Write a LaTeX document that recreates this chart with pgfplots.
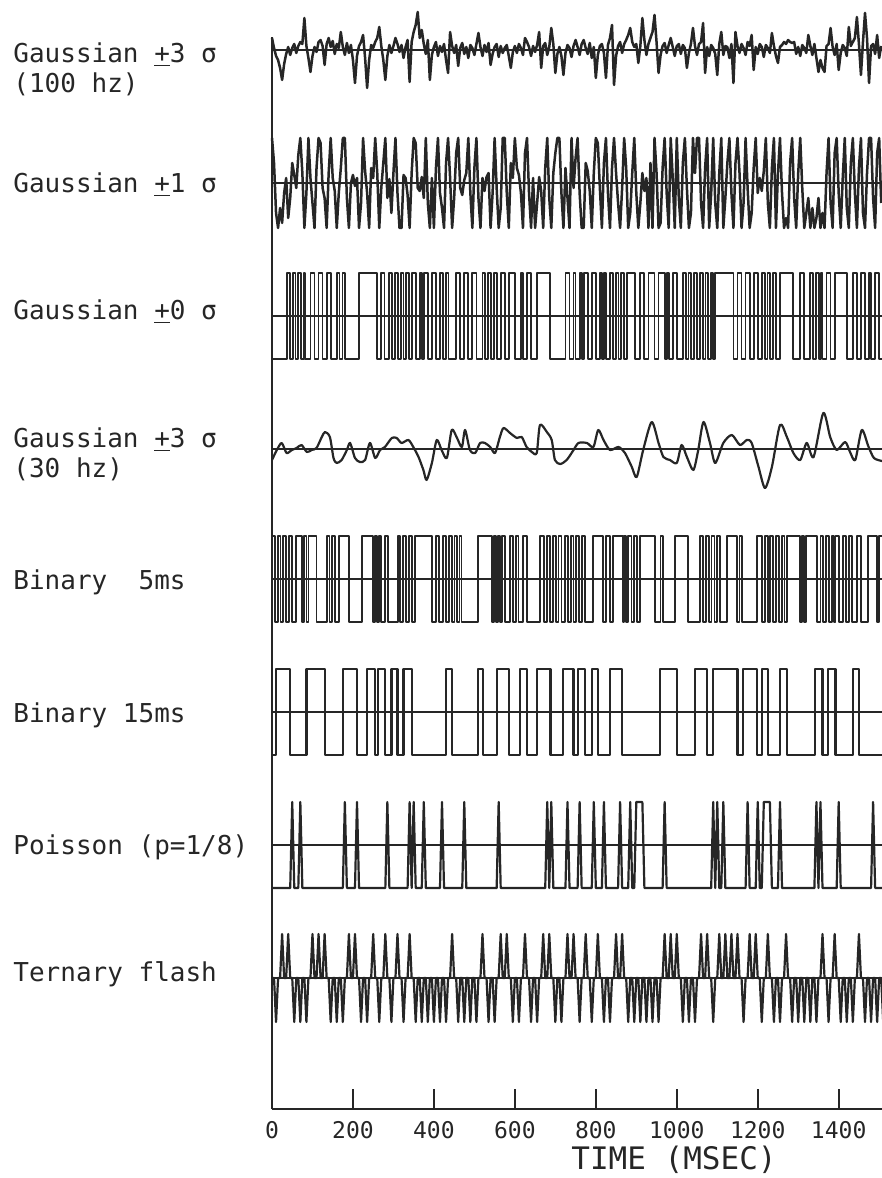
\documentclass[border=0pt]{standalone}
\usepackage{pgfplots}
\pgfplotsset{compat=1.18}
\usepackage{fontspec}
\newfontfamily\mono{DejaVu Sans Mono}
\definecolor{ink}{gray}{0.15}
\newcommand\lbl{\mono\fontsize{13}{15}\selectfont}

\begin{document}
\begin{tikzpicture}
\useasboundingbox (-136pt,-34.5pt) rectangle (305pt,554.5pt);
\begin{axis}[
  at={(0,0)}, anchor=south west,
  scale only axis, width=305pt, height=536pt,
  xmin=0, xmax=1507, ymin=-1109, ymax=-37,
  clip=false,
  axis x line=bottom, axis y line=left,
  axis line style={-, line width=1pt, ink},
  xtick={0,200,400,600,800,1000,1200,1400},
  xticklabels={0,200,400,600,800,1000,1200,1400},
  ytick=\empty,
  tick align=inside, major tick length=10pt,
  tick style={line width=1pt, ink},
  xticklabel style={font=\mono\fontsize{11.5}{12}\selectfont, text=ink, yshift=-2.5pt},
  trace/.style={ink, line width=1.1pt, mark=none, line join=round},
  noise/.style={ink, line width=1.25pt, mark=none, line join=round},
  fast/.style={ink, line width=0.9pt, mark=none, line join=round},
  zero/.style={ink, line width=1pt, mark=none},
]

% zero lines of the eight stimulus traces
\addplot[zero] coordinates {(0,-50) (1507,-50)};
\addplot[zero] coordinates {(0,-183) (1507,-183)};
\addplot[zero] coordinates {(0,-316) (1507,-316)};
\addplot[zero] coordinates {(0,-449) (1507,-449)};
\addplot[zero] coordinates {(0,-579) (1507,-579)};
\addplot[zero] coordinates {(0,-712) (1507,-712)};
\addplot[zero] coordinates {(0,-845) (1507,-845)};
\addplot[zero] coordinates {(0,-978) (1507,-978)};

% Gaussian +-3 sigma, 100 Hz (5 ms samples)
\addplot[noise] table[row sep=\\, header=false, x expr=\coordindex*5, y expr=\thisrowno{0}-50] {
12\\2\\-6\\-10\\-18\\-30\\-14\\-4\\3\\-5\\
2\\6\\-3\\4\\8\\6\\32\\4\\-8\\-22\\
-6\\3\\-2\\8\\10\\4\\-15\\6\\12\\3\\
9\\-4\\6\\2\\18\\3\\-5\\7\\-3\\5\\
-10\\-33\\-6\\4\\8\\15\\-8\\-38\\-10\\5\\
2\\8\\12\\23\\4\\-10\\-30\\-6\\5\\-3\\
4\\12\\6\\-2\\5\\-8\\3\\10\\-32\\8\\
18\\25\\38\\12\\20\\6\\-4\\10\\-30\\-5\\
3\\8\\-6\\4\\-2\\6\\-10\\-23\\18\\4\\
-3\\5\\-16\\2\\7\\-4\\3\\-8\\5\\2\\
-5\\6\\17\\3\\-6\\5\\-2\\7\\-15\\-4\\
3\\6\\-7\\4\\-3\\2\\5\\-6\\-18\\-2\\
4\\-3\\6\\2\\-5\\12\\8\\3\\-6\\4\\
-2\\5\\18\\-18\\4\\7\\-5\\3\\22\\6\\
-23\\-4\\3\\-6\\-25\\-3\\5\\2\\-7\\4\\
10\\3\\-5\\6\\10\\2\\-4\\7\\-8\\3\\
-28\\-5\\4\\6\\-3\\-28\\5\\12\\25\\-35\\
-6\\4\\8\\-3\\6\\10\\15\\22\\8\\3\\
6\\-13\\4\\32\\10\\-5\\6\\12\\18\\35\\
8\\-23\\-5\\4\\7\\-3\\5\\12\\3\\-6\\
4\\6\\-4\\5\\2\\-18\\-3\\6\\22\\4\\
-5\\6\\8\\27\\-23\\3\\-6\\5\\2\\-4\\
-25\\6\\18\\-5\\4\\3\\-8\\6\\-33\\18\\
4\\-3\\6\\2\\-5\\8\\4\\15\\-20\\3\\
-4\\6\\3\\-7\\5\\2\\-3\\17\\4\\-6\\
-13\\3\\5\\8\\6\\10\\8\\7\\8\\-4\\
3\\-6\\5\\2\\-3\\15\\4\\-5\\6\\-8\\
-22\\-10\\-18\\-22\\4\\6\\22\\3\\-5\\6\\
-20\\-3\\5\\2\\-6\\23\\4\\8\\12\\33\\
6\\-25\\8\\37\\12\\-33\\4\\6\\-4\\15\\
-8\\4\\
};

% Gaussian +-1 sigma (clipped at the rails)
\addplot[noise] table[row sep=\\, header=false, x expr=\coordindex*5, y expr=\thisrowno{0}-183] {
45\\20\\-30\\-45\\-25\\-40\\-10\\5\\-35\\-15\\
20\\8\\-5\\28\\45\\10\\-45\\-10\\45\\5\\
-20\\-45\\15\\45\\40\\-5\\-15\\-45\\10\\45\\
5\\-8\\-45\\-10\\15\\45\\45\\-15\\-45\\0\\
8\\-3\\5\\-45\\-20\\45\\12\\-10\\-45\\15\\
5\\45\\10\\-45\\-5\\20\\45\\-15\\4\\-30\\
10\\45\\-10\\-45\\-45\\8\\5\\-12\\-45\\10\\
45\\40\\-5\\-8\\6\\-15\\45\\-20\\-45\\5\\
-45\\15\\45\\-10\\-25\\-45\\20\\45\\5\\-45\\
-15\\30\\45\\-5\\-12\\3\\10\\45\\-10\\-45\\
15\\45\\-15\\-45\\5\\-8\\6\\10\\-45\\-10\\
45\\-5\\-45\\-25\\45\\45\\-10\\-45\\20\\5\\
45\\15\\8\\-10\\-45\\30\\45\\-10\\-45\\5\\
-45\\-20\\6\\-8\\-45\\15\\45\\-15\\-45\\10\\
30\\45\\45\\-10\\-45\\15\\-15\\-45\\45\\-5\\
25\\45\\-10\\-45\\-45\\20\\12\\-8\\-45\\10\\
45\\40\\-5\\-45\\20\\45\\-10\\-45\\15\\45\\
10\\-20\\-45\\-5\\45\\15\\-45\\-30\\10\\45\\
-10\\-45\\-20\\10\\-8\\5\\-45\\20\\-45\\45\\
10\\-45\\-40\\15\\45\\-10\\-45\\45\\5\\-45\\
45\\-15\\-45\\20\\45\\-5\\-45\\-30\\45\\10\\
45\\45\\-20\\-45\\15\\45\\-45\\-10\\45\\-20\\
-45\\10\\45\\-45\\-15\\20\\45\\-10\\-45\\20\\
45\\10\\-45\\-20\\45\\-5\\-45\\-30\\15\\45\\
-10\\5\\-8\\12\\45\\-20\\-45\\15\\45\\-45\\
10\\45\\-10\\-45\\-35\\-45\\20\\45\\-15\\-45\\
10\\45\\-5\\-45\\-30\\-15\\-45\\-25\\-45\\-35\\
-15\\-45\\-30\\-45\\10\\45\\-20\\-45\\30\\45\\
-10\\-45\\5\\45\\-25\\-45\\20\\45\\-10\\-45\\
15\\45\\-30\\-45\\10\\45\\45\\-15\\-45\\30\\
45\\-20\\
};

% Gaussian +-0 sigma (sign of the noise)
\addplot[fast, const plot] table[row sep=\\, header=false, y expr=\thisrowno{1}-316] {
0 -43\\37 43\\44 -43\\51 43\\58 -43\\65 43\\72 -43\\79 43\\
82 -43\\95 43\\105 -43\\115 43\\125 -43\\135 43\\145 -43\\160 43\\167 -43\\174 43\\
181 -43\\215 43\\260 -43\\270 43\\278 -43\\290 43\\297 -43\\304 43\\311 -43\\318 43\\
325 -43\\332 43\\338 -43\\345 43\\355 -43\\365 43\\
370 -43\\375 43\\385 -43\\395 43\\405 -43\\415 43\\422 -43\\429 43\\436 -43\\
455 43\\465 -43\\475 43\\485 -43\\495 43\\505 -43\\520 43\\527 -43\\534 43\\
541 -43\\548 43\\555 -43\\565 43\\575 -43\\585 43\\600 -43\\615 43\\
620 -43\\630 43\\640 -43\\655 43\\687 -43\\725 43\\735 -43\\745 43\\750 -43\\760 43\\
765 -43\\770 43\\780 -43\\790 43\\800 -43\\810 43\\815 -43\\820 43\\825 -43\\835 43\\
842 -43\\849 43\\856 -43\\863 43\\870 -43\\877 43\\897 -43\\910 43\\
920 -43\\930 43\\945 -43\\955 43\\970 -43\\975 43\\980 -43\\990 43\\1000 -43\\1015 43\\
1022 -43\\1029 43\\1036 -43\\1043 43\\1050 -43\\1057 43\\1064 -43\\1071 43\\1078 -43\\1085 43\\
1090 -43\\1095 43\\1140 -43\\1150 43\\1160 -43\\1170 43\\
1180 -43\\1190 43\\1200 -43\\1210 43\\1217 -43\\1224 43\\1231 -43\\1238 43\\1245 -43\\1255 43\\
1287 -43\\1305 43\\1315 -43\\1330 43\\1337 -43\\1344 43\\1351 -43\\1356 43\\1360 -43\\1370 43\\
1380 -43\\1390 43\\1420 -43\\1435 43\\1445 -43\\1455 43\\1465 -43\\1475 43\\1480 -43\\1490 43\\
1500 -43\\1507 -43\\
};

% Gaussian +-3 sigma, 30 Hz
\addplot[trace, smooth, tension=0.45] table[row sep=\\, header=false, y expr=\thisrowno{1}-449] {
0 -11\\12 -1\\24 6\\36 -4\\49 -1\\61 1\\73 4\\86 -3\\98 -1\\110 1\\
123 12\\131 17\\143 12\\152 -9\\160 -14\\172 -11\\185 -1\\193 6\\205 -9\\217 -13\\
230 -11\\242 6\\255 -9\\267 -1\\279 2\\296 11\\308 11\\320 6\\337 9\\349 2\\
362 -8\\374 -21\\382 -31\\395 -14\\407 9\\419 -1\\432 -9\\444 19\\456 12\\469 2\\
477 19\\489 -1\\502 -4\\514 6\\526 6\\539 2\\551 -4\\563 12\\572 21\\588 16\\
605 11\\617 12\\629 2\\642 -3\\654 -4\\662 24\\679 17\\691 9\\699 -11\\712 -15\\
728 -11\\745 -1\\757 6\\778 6\\794 2\\806 19\\819 9\\835 -1\\856 2\\872 -4\\
889 -18\\901 -28\\917 -1\\938 27\\955 6\\967 -8\\983 -11\\1000 -14\\1012 4\\1025 -8\\
1041 -21\\1053 -1\\1066 27\\1082 6\\1095 -14\\1115 6\\1136 14\\1156 4\\1173 9\\1185 6\\
1202 -18\\1218 -39\\1235 -18\\1255 24\\1272 12\\1288 -4\\1305 -11\\1321 6\\1338 -8\\1362 36\\
1379 12\\1395 -1\\1416 7\\1428 -3\\1441 -11\\1457 19\\1473 3\\1487 -9\\1507 -12\\
};

% Binary, 5 ms
\addplot[fast, const plot] table[row sep=\\, header=false, y expr=\thisrowno{1}-579] {
0 43\\7 -43\\14 43\\21 -43\\28 43\\35 -43\\42 43\\49 -43\\
60 43\\75 -43\\80 43\\85 -43\\90 43\\110 -43\\135 43\\142 -43\\149 43\\156 -43\\
165 43\\190 -43\\222 43\\250 -43\\255 43\\260 -43\\
265 43\\270 -43\\280 43\\287 -43\\311 43\\316 -43\\324 43\\331 -43\\338 43\\345 -43\\
354 43\\395 -43\\405 43\\412 -43\\423 43\\430 -43\\437 43\\444 -43\\451 43\\458 -43\\
463 43\\468 -43\\509 43\\544 -43\\549 43\\554 -43\\
559 43\\564 -43\\569 43\\575 -43\\588 43\\595 -43\\602 43\\609 -43\\
620 43\\630 -43\\662 43\\672 -43\\680 43\\687 -43\\694 43\\701 -43\\708 43\\
715 -43\\724 43\\731 -43\\738 43\\745 -43\\752 43\\759 -43\\766 43\\773 -43\\
793 43\\818 -43\\825 43\\835 -43\\843 43\\867 -43\\
870 43\\875 -43\\880 43\\888 -43\\895 43\\902 -43\\909 43\\946 -43\\
960 43\\965 -43\\996 43\\1028 -43\\1058 43\\1065 -43\\1072 43\\1079 -43\\1086 43\\1093 -43\\
1100 43\\1107 -43\\1124 43\\1149 -43\\1155 43\\1161 -43\\
1198 43\\1210 -43\\1218 43\\1225 -43\\1231 43\\1238 -43\\1245 43\\1252 -43\\1259 43\\1266 -43\\
1273 43\\1305 -43\\1310 43\\1315 -43\\1320 43\\1347 -43\\1355 43\\1362 -43\\
1369 43\\1376 -43\\1383 43\\1388 -43\\1392 43\\1400 -43\\1411 43\\1418 -43\\1425 43\\1432 -43\\
1445 43\\1455 -43\\1473 43\\1495 -43\\1500 43\\1507 43\\
};

% Binary, 15 ms
\addplot[trace, const plot] table[row sep=\\, header=false, y expr=\thisrowno{1}-712] {
0 -43\\10 43\\45 -43\\85 43\\130 -43\\175 43\\210 -43\\235 43\\255 -43\\262 43\\
280 -43\\295 43\\310 -43\\325 43\\345 -43\\430 43\\445 -43\\508 43\\522 -43\\555 43\\
585 -43\\612 43\\630 -43\\655 43\\688 -43\\718 43\\745 -43\\755 43\\773 -43\\790 43\\
806 -43\\835 43\\865 -43\\958 43\\1000 -43\\1045 43\\1075 -43\\1090 43\\1150 -43\\1163 43\\
1198 -43\\1210 43\\1226 -43\\1255 43\\1273 -43\\1342 43\\1360 -43\\1374 43\\1392 -43\\1435 43\\
1450 -43\\1507 -43\\
};

% Poisson, p = 1/8
\addplot[trace] table[row sep=\\, header=false, y expr=\thisrowno{1}-845] {
0 -43\\45 -43\\50 43\\55 -43\\65 -43\\70 43\\75 -43\\175 -43\\180 43\\185 -43\\
205 -43\\210 43\\215 -43\\280 -43\\285 43\\290 -43\\335 -43\\340 43\\345 -43\\350 43\\
355 -43\\370 -43\\375 43\\380 -43\\415 -43\\420 43\\425 -43\\470 -43\\475 43\\480 -43\\
555 -43\\560 43\\565 -43\\675 -43\\680 43\\685 -43\\690 43\\695 -43\\725 -43\\730 43\\
735 -43\\755 -43\\760 43\\765 -43\\790 -43\\795 43\\800 -43\\815 -43\\820 43\\825 -43\\
855 -43\\860 43\\865 -43\\880 -43\\885 43\\890 -43\\895 -43\\900 43\\915 43\\920 -43\\
965 -43\\970 43\\975 -43\\1085 -43\\1090 43\\1095 -43\\1100 43\\1105 -43\\1110 -43\\1115 43\\
1120 -43\\1170 -43\\1175 43\\1180 -43\\1195 -43\\1200 43\\1205 -43\\1210 -43\\1215 43\\1230 43\\
1235 -43\\1250 -43\\1255 43\\1260 -43\\1340 -43\\1345 43\\1350 -43\\1355 43\\1360 -43\\1395 -43\\
1400 43\\1405 -43\\1480 -43\\1485 43\\1490 -43\\1507 -43\\
};

% Ternary flash: one flash every 15 ms, light (+) or dark (-)
\addplot[trace] table[row sep=\\, header=false, x expr=\coordindex*5, y expr=\thisrowno{0}-978] {
0\\0\\-44\\0\\0\\44\\0\\0\\44\\0\\0\\-44\\0\\0\\-44\\
0\\0\\-44\\0\\0\\44\\0\\0\\44\\0\\0\\44\\0\\0\\-44\\
0\\0\\-44\\0\\0\\-44\\0\\0\\44\\0\\0\\44\\0\\0\\-44\\
0\\0\\-44\\0\\0\\44\\0\\0\\-44\\0\\0\\44\\0\\0\\-44\\
0\\0\\44\\0\\0\\-44\\0\\0\\44\\0\\0\\-44\\0\\0\\-44\\
0\\0\\-44\\0\\0\\-44\\0\\0\\-44\\0\\0\\-44\\0\\0\\44\\
0\\0\\-44\\0\\0\\-44\\0\\0\\-44\\0\\0\\-44\\0\\0\\44\\
0\\0\\-44\\0\\0\\-44\\0\\0\\44\\0\\0\\44\\0\\0\\-44\\
0\\0\\-44\\0\\0\\44\\0\\0\\-44\\0\\0\\-44\\0\\0\\44\\
0\\0\\44\\0\\0\\-44\\0\\0\\-44\\0\\0\\44\\0\\0\\44\\
0\\0\\-44\\0\\0\\44\\0\\0\\-44\\0\\0\\44\\0\\0\\-44\\
0\\0\\-44\\0\\0\\44\\0\\0\\44\\0\\0\\-44\\0\\0\\-44\\
0\\0\\-44\\0\\0\\-44\\0\\0\\-44\\0\\0\\-44\\0\\0\\44\\
0\\0\\44\\0\\0\\44\\0\\0\\-44\\0\\0\\-44\\0\\0\\-44\\
0\\0\\44\\0\\0\\44\\0\\0\\-44\\0\\0\\44\\0\\0\\44\\
0\\0\\44\\0\\0\\44\\0\\0\\-44\\0\\0\\44\\0\\0\\44\\
0\\0\\-44\\0\\0\\44\\0\\0\\-44\\0\\0\\-44\\0\\0\\44\\
0\\0\\-44\\0\\0\\-44\\0\\0\\-44\\0\\0\\-44\\0\\0\\-44\\
0\\0\\44\\0\\0\\-44\\0\\0\\44\\0\\0\\-44\\0\\0\\-44\\
0\\0\\-44\\0\\0\\44\\0\\0\\-44\\0\\0\\-44\\0\\0\\-44\\
0\\0\\-44\\0\\
};

\end{axis}

% trace names
\begin{scope}[every node/.style={anchor=base west, inner sep=0pt, font=\lbl, text=ink}]
\node at (-129.5pt,523pt) {Gaussian \underline{+}3 σ};
\node at (-129.5pt,508pt) {(100 hz)};
\node at (-129.5pt,458pt) {Gaussian \underline{+}1 σ};
\node at (-129.5pt,394.5pt) {Gaussian \underline{+}0 σ};
\node at (-129.5pt,330.5pt) {Gaussian \underline{+}3 σ};
\node at (-129.5pt,315.5pt) {(30 hz)};
\node at (-129.5pt,259.5pt) {Binary\ \ 5ms};
\node at (-129.5pt,193pt) {Binary 15ms};
\node at (-129.5pt,127pt) {Poisson (p=1/8)};
\node at (-129.5pt,63.5pt) {Ternary flash};
\end{scope}
\node[font=\mono\fontsize{15.5}{17}\selectfont, text=ink, inner sep=0pt] at (201pt,-25.5pt) {TIME (MSEC)};
\end{tikzpicture}
\end{document}
